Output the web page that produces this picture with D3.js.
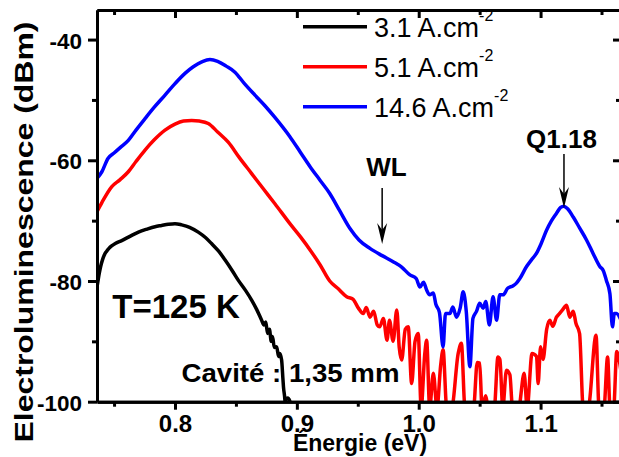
<!DOCTYPE html>
<html>
<head>
<meta charset="utf-8">
<script src="https://cdn.jsdelivr.net/npm/d3@7"></script>
<style>
  html, body { margin: 0; padding: 0; background: #fff; }
  svg { display: block; font-family: "Liberation Sans", Arial, sans-serif; }
</style>
</head>
<body>
<svg id="chart" width="619" height="457"></svg>
<script>
// ---- data (energy in eV, electroluminescence in dBm) ----
const seriesLabels = ["3.1 A.cm", "5.1 A.cm", "14.6 A.cm"];
const seriesColors = ["#000000", "#ff0000", "#0000ff"];

const blackE = [0.736,0.7368,0.7378,0.739,0.7405,0.742,0.7438,0.7458,0.748,0.751,0.7563,0.763,0.770,0.777,0.7836,0.789,0.7945,0.800,0.8055,0.812,0.8191,0.825,0.830,0.836,0.841,0.847,0.852,0.858,0.863,0.867,0.8711,0.873,0.8745,0.876,0.8775,0.879,0.880,0.8815,0.8834,0.885,0.886,0.8875,0.8885,0.889,0.8902,0.8906,0.891,0.8925,0.894,0.8955];
const blackV = [-81.0,-80.0,-78.8,-77.6,-76.5,-75.7,-75.1,-74.6,-74.2,-73.8,-73.3,-72.6,-71.9,-71.4,-71.0,-70.8,-70.6,-70.5,-70.7,-71.1,-71.9,-72.8,-73.8,-75.1,-76.5,-78.3,-79.9,-81.6,-83.2,-84.7,-86.5,-87.3,-86.8,-88.7,-88.0,-90.0,-89.2,-91.0,-90.9,-92.5,-92.0,-93.1,-96.0,-97.5,-99.7,-101,-99.6,-99.4,-99.8,-101];

const redE = [0.736,0.740,0.748,0.755,0.7617,0.768,0.7754,0.783,0.7918,0.800,0.807,0.8137,0.820,0.8273,0.835,0.8437,0.853,0.8629,0.872,0.882,0.8943,0.903,0.911,0.919,0.927,0.934,0.9409,0.946,0.9505,0.9545,0.957,0.960,0.963,0.966,0.968,0.971,0.974,0.976,0.979,0.982,0.984,0.986,0.989,0.9914,0.9942,0.997,0.9996,1.002,1.005,1.0065,1.009,1.012,1.015,1.018,1.020,1.023,1.027,1.0324,1.035,1.038,1.045,1.048,1.050,1.052,1.055,1.057,1.062,1.065,1.0666,1.069,1.072,1.0748,1.077,1.082,1.0865,1.089,1.093,1.0967,1.098,1.100,1.102,1.105,1.1076,1.110,1.113,1.1155,1.118,1.1213,1.124,1.1268,1.129,1.132,1.135,1.139,1.1455,1.148,1.152,1.155,1.157,1.160,1.1625,1.166];
const redV = [-68.5,-67.0,-64.4,-63.2,-61.9,-60.2,-58.3,-56.6,-55.0,-54.0,-53.5,-53.4,-53.5,-53.9,-55.3,-57.0,-59.6,-62.2,-64.6,-67.2,-70.5,-72.7,-74.9,-77.3,-80.0,-81.3,-82.6,-83.0,-84.5,-85.4,-84.4,-86.0,-85.0,-87.3,-87.6,-86.2,-89.8,-86.5,-90.0,-84.8,-91.0,-93.1,-88.0,-87.6,-97.0,-90.0,-88.7,-101,-92.0,-89.8,-101,-95.3,-101,-94.0,-91.4,-101,-101,-92.0,-90.3,-101,-101,-93.5,-93.6,-101,-99.0,-101,-101,-92.6,-93.0,-101,-94.8,-95.5,-101,-101,-95.3,-101,-92.0,-92.5,-97.0,-90.9,-93.0,-88.0,-86.5,-87.5,-86.0,-85.4,-84.8,-84.0,-86.0,-85.0,-87.0,-88.7,-101,-101,-89.0,-101,-101,-92.6,-101,-101,-91.7,-95.0];

const blueE = [0.736,0.740,0.745,0.750,0.755,0.7617,0.768,0.7754,0.783,0.7918,0.800,0.8082,0.815,0.822,0.8287,0.835,0.842,0.8492,0.857,0.8656,0.874,0.882,0.8943,0.903,0.911,0.919,0.927,0.935,0.9436,0.951,0.960,0.970,0.979,0.986,0.9928,0.998,1.001,1.004,1.0065,1.009,1.012,1.014,1.017,1.020,1.022,1.0256,1.028,1.031,1.034,1.0365,1.039,1.042,1.0445,1.0475,1.050,1.0529,1.055,1.058,1.061,1.0639,1.0665,1.0693,1.073,1.0775,1.080,1.083,1.0885,1.0925,1.0967,1.1005,1.1049,1.109,1.113,1.1165,1.1191,1.122,1.1268,1.132,1.1377,1.143,1.1486,1.1515,1.154,1.1569,1.159,1.1605,1.1623,1.166];
const blueV = [-63.0,-61.9,-59.7,-58.8,-57.9,-56.7,-55.0,-53.1,-51.2,-49.2,-47.3,-45.6,-44.5,-43.7,-43.3,-43.6,-44.4,-45.4,-47.3,-49.2,-51.0,-52.9,-56.1,-58.7,-61.1,-63.3,-65.5,-68.3,-71.3,-73.2,-74.6,-75.8,-76.8,-77.7,-79.0,-79.6,-81.0,-80.2,-81.5,-82.3,-82.0,-83.8,-85.2,-90.9,-85.4,-85.4,-84.3,-86.0,-84.5,-81.8,-85.0,-94.2,-86.2,-85.0,-83.7,-84.5,-83.4,-87.3,-82.6,-86.5,-82.3,-82.3,-81.2,-80.8,-80.4,-79.6,-77.6,-76.5,-75.4,-73.8,-71.6,-70.0,-68.8,-67.8,-67.6,-68.0,-69.4,-71.2,-73.2,-75.4,-77.6,-78.3,-79.9,-82.1,-87.6,-85.4,-85.4,-86.5];

const xMajorTicks = [0.8, 0.9, 1.0, 1.1];
const xMinorTicks = [0.75, 0.85, 0.95, 1.05, 1.15];
const yMajorTicks = [-40, -60, -80, -100];
const yMinorTicks = [-50, -70, -90];
const xDomain = [0.736, 1.166];
const yDomain = [-100, -35.1];

// ---- layout ----
const svg = d3.select("#chart");
const L = 97, R = 621, T = 10, B = 401.7;
const x = d3.scaleLinear().domain(xDomain).range([L, R]);
const y = d3.scaleLinear().domain(yDomain).range([B, T]);

svg.append("defs").append("clipPath").attr("id", "clip")
  .append("rect").attr("x", L).attr("y", T).attr("width", R - L).attr("height", B - T + 1);

// ---- data lines ----
const line = d3.line().x(d => x(d[0])).y(d => y(d[1])).curve(d3.curveMonotoneX);
const series = [
  { e: blackE, v: blackV, c: seriesColors[0] },
  { e: redE, v: redV, c: seriesColors[1] },
  { e: blueE, v: blueV, c: seriesColors[2] }
];
const gLines = svg.append("g").attr("clip-path", "url(#clip)");
series.forEach(s => {
  gLines.append("path")
    .datum(s.e.map((e, i) => [e, s.v[i]]))
    .attr("d", line)
    .attr("fill", "none")
    .attr("stroke", s.c)
    .attr("stroke-width", 3.5)
    .attr("stroke-linejoin", "round");
});

// ---- axes ----
function styleAxis(g) {
  g.select(".domain").attr("stroke", "#000").attr("stroke-width", 3);
  g.selectAll(".tick line").attr("stroke", "#000").attr("stroke-width", 3);
  g.selectAll("text").attr("font-weight", "bold").attr("fill", "#000");
}
const fmtX = d3.format(".1f");
// bottom
svg.append("g").attr("transform", `translate(0,${B})`)
  .call(d3.axisBottom(x).tickValues(xMajorTicks).tickFormat(fmtX).tickSize(8).tickSizeOuter(0).tickPadding(5.5))
  .call(styleAxis)
  .call(g => g.selectAll("text").attr("font-size", 24).attr("dy", "0.71em"));
svg.append("g").attr("transform", `translate(0,${B})`)
  .call(d3.axisBottom(x).tickValues(xMinorTicks).tickFormat("").tickSize(5).tickSizeOuter(0))
  .call(styleAxis);
// top (inward)
svg.append("g").attr("transform", `translate(0,${T})`)
  .call(d3.axisTop(x).tickValues(xMajorTicks).tickFormat("").tickSize(-8).tickSizeOuter(0))
  .call(styleAxis);
svg.append("g").attr("transform", `translate(0,${T})`)
  .call(d3.axisTop(x).tickValues(xMinorTicks).tickFormat("").tickSize(-5).tickSizeOuter(0))
  .call(styleAxis);
// left
svg.append("g").attr("transform", `translate(${L},0)`)
  .call(d3.axisLeft(y).tickValues(yMajorTicks).tickFormat(d3.format("d")).tickSize(9).tickSizeOuter(0).tickPadding(6))
  .call(styleAxis)
  .call(g => g.selectAll("text").attr("font-size", 22.5).attr("dy", "0.38em").text(d => String(d)));
svg.append("g").attr("transform", `translate(${L},0)`)
  .call(d3.axisLeft(y).tickValues(yMinorTicks).tickFormat("").tickSize(5).tickSizeOuter(0))
  .call(styleAxis);
// right (inward)
svg.append("g").attr("transform", `translate(${R},0)`)
  .call(d3.axisRight(y).tickValues(yMajorTicks).tickFormat("").tickSize(-8).tickSizeOuter(0))
  .call(styleAxis);
svg.append("g").attr("transform", `translate(${R},0)`)
  .call(d3.axisRight(y).tickValues(yMinorTicks).tickFormat("").tickSize(-5).tickSizeOuter(0))
  .call(styleAxis);

// ---- axis titles ----
svg.append("text")
  .attr("x", 360).attr("y", 450.5)
  .attr("text-anchor", "middle")
  .attr("font-size", 23).attr("font-weight", "bold")
  .text("Énergie (eV)");
svg.append("text")
  .attr("transform", "translate(33,232) rotate(-90)")
  .attr("text-anchor", "middle")
  .attr("font-size", 25).attr("font-weight", "bold")
  .attr("textLength", 421).attr("lengthAdjust", "spacingAndGlyphs")
  .text("Electroluminescence (dBm)");

// ---- legend ----
const legRows = [26.7, 66.7, 106.7];
seriesLabels.forEach((lab, i) => {
  const yy = legRows[i];
  svg.append("line").attr("x1", 303).attr("x2", 367).attr("y1", yy).attr("y2", yy)
    .attr("stroke", seriesColors[i]).attr("stroke-width", 3.5);
  const t = svg.append("text").attr("x", 374).attr("y", yy + 10)
    .attr("font-size", 27).attr("fill", "#000");
  t.append("tspan").text(lab);
  t.append("tspan").attr("font-size", 16).attr("dy", -16).text("-2");
});

// ---- annotations ----
svg.append("text").attr("x", 176).attr("y", 318)
  .attr("text-anchor", "middle").attr("font-size", 33).attr("font-weight", "bold")
  .text("T=125 K");
svg.append("text").attr("x", 181.5).attr("y", 381.5)
  .attr("font-size", 26).attr("font-weight", "bold")
  .attr("textLength", 218).attr("lengthAdjust", "spacingAndGlyphs")
  .text("Cavité : 1,35 mm");

function arrow(xp, y0, y1) {
  svg.append("line").attr("x1", xp).attr("x2", xp).attr("y1", y0).attr("y2", y1 - 8)
    .attr("stroke", "#000").attr("stroke-width", 1.5);
  svg.append("path")
    .attr("d", `M${xp},${y1} L${xp - 5},${y1 - 21} L${xp},${y1 - 14} L${xp + 5},${y1 - 21} Z`)
    .attr("fill", "#000");
}
svg.append("text").attr("x", 386.5).attr("y", 176)
  .attr("text-anchor", "middle").attr("font-size", 26).attr("font-weight", "bold").text("WL");
arrow(x(0.970), 188, 244);
svg.append("text").attr("x", 561.5).attr("y", 148.3)
  .attr("text-anchor", "middle").attr("font-size", 26).attr("font-weight", "bold").text("Q1.18");
arrow(x(1.1192), 154, 208);
</script>
</body>
</html>
